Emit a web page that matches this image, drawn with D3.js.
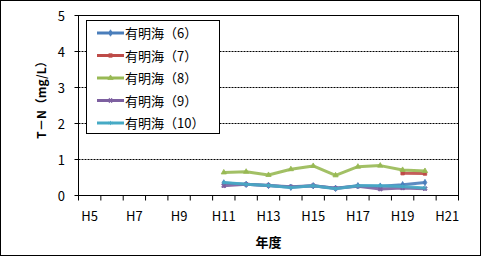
<!DOCTYPE html>
<meta charset="utf-8">
<head>
    <title>T-N 有明海</title>
    <script src="https://cdn.jsdelivr.net/npm/d3@7"></script>
    <style>
        body { margin: 0; background: #fff; }
        text { font-family: "Noto Sans CJK JP", sans-serif; }
    </style>
</head>
<body>
<script>

// data
var years = ["H5","H6","H7","H8","H9","H10","H11","H12","H13","H14","H15","H16","H17","H18","H19","H20","H21"]
var shownYears = ["H5","H7","H9","H11","H13","H15","H17","H19","H21"]
var yTicks = [0, 1, 2, 3, 4, 5]
var names = ["有明海（6）","有明海（7）","有明海（8）","有明海（9）","有明海（10）"]
var colors = ["#4a7ebb","#be4b48","#98b954","#7d60a0","#46aac5"]
var shapes = [d3.symbolDiamond, d3.symbolSquare, d3.symbolTriangle, d3.symbolCross, d3.symbolAsterisk]
var dataYears = ["H11","H12","H13","H14","H15","H16","H17","H18","H19","H20"]
var s6  = [0.35, 0.31, 0.28, 0.23, 0.27, 0.20, 0.27, 0.26, 0.30, 0.36]
var s7  = [null, null, null, null, null, null, null, null, 0.62, 0.61]
var s8  = [0.64, 0.66, 0.57, 0.73, 0.82, 0.56, 0.80, 0.83, 0.71, 0.68]
var s9  = [0.27, 0.31, 0.28, 0.24, 0.27, 0.20, 0.26, 0.18, 0.21, 0.19]
var s10 = [0.36, 0.31, 0.28, 0.22, 0.27, 0.19, 0.27, 0.27, 0.25, 0.21]
var series = [s6, s7, s8, s9, s10]

var w = 481, h = 256

var svg = d3.select("body").append("svg").attr("width", w).attr("height", h)

// outer frame
svg.append("rect").attr("x", 0.5).attr("y", 0.5).attr("width", w - 1).attr("height", h - 1)
    .attr("fill", "#fff").attr("stroke", "#000")

var x = d3.scaleBand().domain(years).range([78.5, 458.5])
var y = d3.scaleLinear().domain([0, 5]).range([195.5, 15.5])

// gridlines
svg.append("g").selectAll("line")
    .data(yTicks.filter(function(d) { return d > 0 && d < 5 })).enter()
    .append("line")
    .attr("x1", 78.5).attr("x2", 458.5)
    .attr("y1", function(d) { return y(d) }).attr("y2", function(d) { return y(d) })
    .attr("stroke", "#000").attr("stroke-dasharray", "2,1")

// plot frame
svg.append("rect").attr("x", 78.5).attr("y", 15.5).attr("width", 380).attr("height", 180)
    .attr("fill", "none").attr("stroke", "#000")

// y ticks + labels
var yg = svg.append("g")
yg.selectAll("line").data(yTicks).enter().append("line")
    .attr("x1", 74.5).attr("x2", 78.5)
    .attr("y1", function(d) { return y(d) }).attr("y2", function(d) { return y(d) })
    .attr("stroke", "#000")
yg.selectAll("text").data(yTicks).enter().append("text")
    .attr("x", 65).attr("y", function(d) { return y(d) + 5 })
    .attr("text-anchor", "end").attr("font-size", "13px")
    .text(function(d) { return d })

// x ticks + labels
var xg = svg.append("g")
xg.selectAll("line").data(years.concat(["end"])).enter().append("line")
    .attr("x1", function(d) { return d == "end" ? 458.5 : x(d) })
    .attr("x2", function(d) { return d == "end" ? 458.5 : x(d) })
    .attr("y1", 195.5).attr("y2", 200.5)
    .attr("stroke", "#000")
xg.selectAll("text").data(shownYears).enter().append("text")
    .attr("x", function(d) { return x(d) + x.bandwidth() / 2 })
    .attr("y", 221)
    .attr("text-anchor", "middle").attr("font-size", "13px")
    .text(function(d) { return d })

// axis titles
svg.append("text").attr("x", 268.5).attr("y", 247)
    .attr("text-anchor", "middle").attr("font-size", "13px").attr("font-weight", "bold")
    .text("年度")
svg.append("text").attr("transform", "translate(46,97) rotate(-90)")
    .attr("text-anchor", "middle").attr("font-size", "12px").attr("font-weight", "bold")
    .text("T－N（mg/L）")

// lines
var line = d3.line()
    .defined(function(d) { return d.v != null })
    .x(function(d) { return x(d.yr) + x.bandwidth() / 2 })
    .y(function(d) { return y(d.v) })

series.forEach(function(s, i) {
    var pts = s.map(function(v, j) { return {yr: dataYears[j], v: v} })
    var g = svg.append("g")
    g.append("path").datum(pts).attr("d", line)
        .attr("fill", "none").attr("stroke", colors[i]).attr("stroke-width", 3)
        .attr("stroke-linejoin", "round").attr("stroke-opacity", 0.9)
    var sym = d3.symbol().type(shapes[i]).size(12)
    g.selectAll("path.m").data(pts.filter(function(d) { return d.v != null })).enter()
        .append("path").attr("class", "m")
        .attr("d", sym)
        .attr("transform", function(d) {
            var r = (i == 3) ? 45 : 0
            return "translate(" + (x(d.yr) + x.bandwidth() / 2) + "," + y(d.v) + ") rotate(" + r + ")"
        })
        .attr("fill", colors[i]).attr("stroke", colors[i]).attr("stroke-width", 0.8)
})

// legend
var lg = svg.append("g")
lg.append("rect").attr("x", 86.5).attr("y", 20.5).attr("width", 133).attr("height", 113)
    .attr("fill", "#fff").attr("stroke", "#000")
names.forEach(function(n, i) {
    var ly = 33 + i * 22.5
    lg.append("line").attr("x1", 97).attr("x2", 124).attr("y1", ly).attr("y2", ly)
        .attr("stroke", colors[i]).attr("stroke-width", 3)
    lg.append("path").attr("d", d3.symbol().type(shapes[i]).size(12))
        .attr("transform", "translate(110.5," + ly + ")" + (i == 3 ? " rotate(45)" : ""))
        .attr("fill", colors[i]).attr("stroke", colors[i]).attr("stroke-width", 0.8)
    lg.append("text").attr("x", 125).attr("y", ly + 5).attr("font-size", "13px")
        .text(n)
})

</script>
</body>
</html>
